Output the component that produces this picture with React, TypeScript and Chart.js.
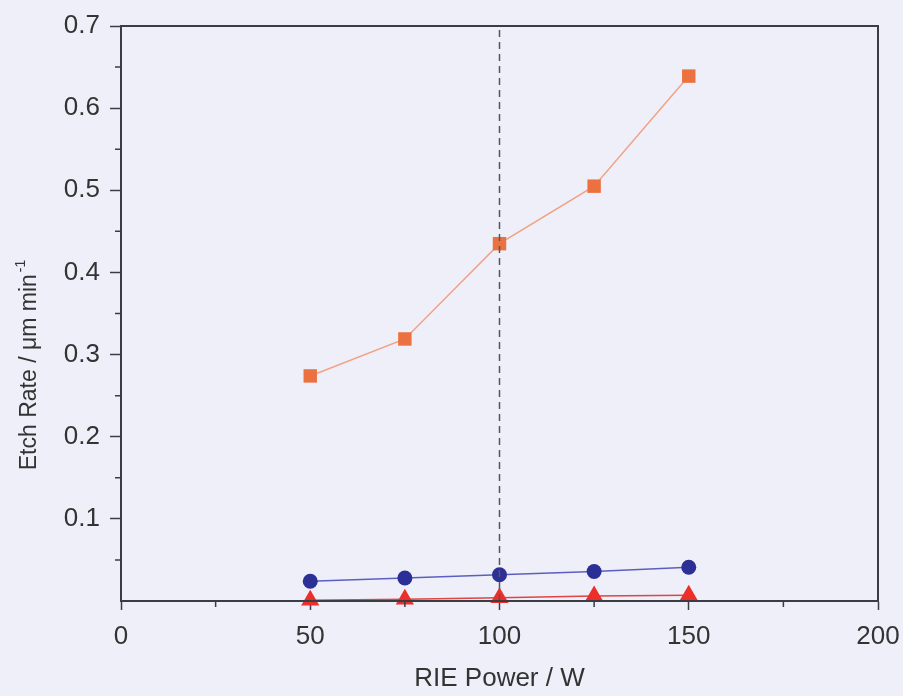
import React, { useEffect, useRef } from "react";
import { Chart, registerables } from "chart.js";

Chart.register(...registerables);

const powers = [50, 75, 100, 125, 150];
const seriesSquare = [0.274, 0.319, 0.435, 0.505, 0.639];
const seriesCircle = [0.024, 0.028, 0.032, 0.036, 0.041];
const seriesTriangle = [0.001, 0.002, 0.004, 0.006, 0.007];
const guideX = [100, 100];
const guideY = [0, 0.7];
const xTickValues = [0, 50, 100, 150, 200];
const yTickValues = [0.1, 0.2, 0.3, 0.4, 0.5, 0.6, 0.7];
const xMinorTicks = [25, 75, 125, 175];
const yMinorTicks = [0.05, 0.15, 0.25, 0.35, 0.45, 0.55, 0.65];
const xTitle = "RIE Power / W";
const yTitleMain = "Etch Rate / \u03bcm min";
const yTitleSup = "-1";

const BG = "#eeeff8";
const AXIS = "#3c3c44";
const FONT = "'Liberation Sans', Arial, sans-serif";

export default function App() {
  const ref = useRef<HTMLCanvasElement | null>(null);

  useEffect(() => {
    document.body.style.margin = "0";
    document.body.style.background = BG;
    const canvas = ref.current;
    if (!canvas) return;

    const framePlugin = {
      id: "frame",
      afterDraw(chart: any) {
        const { ctx, chartArea, scales } = chart;
        const { left, right, top, bottom } = chartArea;
        ctx.save();
        ctx.strokeStyle = AXIS;
        ctx.lineWidth = 2;
        ctx.strokeRect(left, top, right - left, bottom - top);
        ctx.lineWidth = 1.5;
        ctx.beginPath();
        yMinorTicks.forEach((v) => {
          const y = scales.y.getPixelForValue(v);
          ctx.moveTo(left - 6, y);
          ctx.lineTo(left, y);
        });
        xMinorTicks.forEach((v) => {
          const x = scales.x.getPixelForValue(v);
          ctx.moveTo(x, bottom);
          ctx.lineTo(x, bottom + 6);
        });
        ctx.stroke();
        ctx.fillStyle = "#333";
        const cx = 30;
        const cy = 365;
        ctx.translate(cx, cy);
        ctx.rotate(-Math.PI / 2);
        ctx.font = `23px ${FONT}`;
        const wMain = ctx.measureText(yTitleMain).width;
        ctx.font = `14px ${FONT}`;
        const wSup = ctx.measureText(yTitleSup).width;
        const total = wMain + wSup + 2;
        ctx.textBaseline = "middle";
        ctx.textAlign = "left";
        ctx.font = `23px ${FONT}`;
        ctx.fillText(yTitleMain, -total / 2, 0);
        ctx.font = `14px ${FONT}`;
        ctx.fillText(yTitleSup, -total / 2 + wMain + 2, -9);
        ctx.restore();
      },
    };

    const chart = new Chart(canvas, {
      type: "scatter",
      data: {
        datasets: [
          {
            label: "guide",
            data: guideX.map((x, i) => ({ x, y: guideY[i] })),
            showLine: true,
            borderColor: "#555560",
            borderWidth: 1.5,
            borderDash: [7, 5],
            pointRadius: 0,
          },
          {
            label: "triangle",
            data: powers.map((x, i) => ({ x, y: seriesTriangle[i] })),
            showLine: true,
            borderColor: "#e04444",
            borderWidth: 1.5,
            pointStyle: "triangle",
            pointRadius: 10.5,
            pointBackgroundColor: "#ec2f2a",
            pointBorderColor: "#ec2f2a",
            pointBorderWidth: 0,
          },
          {
            label: "circle",
            data: powers.map((x, i) => ({ x, y: seriesCircle[i] })),
            showLine: true,
            borderColor: "#5d5fc0",
            borderWidth: 1.5,
            pointStyle: "circle",
            pointRadius: 7.5,
            pointBackgroundColor: "#2b2f96",
            pointBorderColor: "#2b2f96",
            pointBorderWidth: 0,
          },
          {
            label: "square",
            data: powers.map((x, i) => ({ x, y: seriesSquare[i] })),
            showLine: true,
            borderColor: "#f2a283",
            borderWidth: 1.5,
            pointStyle: "rect",
            pointRadius: 9.5,
            pointBackgroundColor: "#ec7140",
            pointBorderColor: "#ec7140",
            pointBorderWidth: 0,
          },
        ],
      },
      options: {
        animation: false,
        responsive: false,
        maintainAspectRatio: false,
        clip: false as any,
        layout: { padding: { top: 26, right: 25, left: 0, bottom: 0 } },
        plugins: { legend: { display: false }, tooltip: { enabled: false } },
        scales: {
          x: {
            type: "linear",
            min: 0,
            max: 200,
            afterBuildTicks(scale: any) {
              scale.ticks = xTickValues.map((v) => ({ value: v }));
            },
            afterFit(scale: any) {
              scale.height = 95;
              scale.paddingLeft = 0;
              scale.paddingRight = 0;
            },
            grid: {
              drawOnChartArea: false,
              drawTicks: true,
              tickLength: 9,
              tickWidth: 1.5,
              tickColor: AXIS,
            },
            border: { display: true, color: AXIS, width: 2 },
            ticks: {
              color: "#333",
              font: { family: FONT, size: 26 },
              padding: 11,
              maxRotation: 0,
              callback: (v: any) => String(v),
            },
            title: {
              display: true,
              text: xTitle,
              color: "#333",
              font: { family: FONT, size: 26 },
              padding: { top: 2, bottom: 2 },
            },
          },
          y: {
            type: "linear",
            min: 0,
            max: 0.7,
            afterBuildTicks(scale: any) {
              scale.ticks = yTickValues.map((v) => ({ value: v }));
            },
            afterFit(scale: any) {
              scale.width = 121;
              scale.paddingTop = 0;
              scale.paddingBottom = 0;
            },
            grid: {
              drawOnChartArea: false,
              drawTicks: true,
              tickLength: 11,
              tickWidth: 1.5,
              tickColor: AXIS,
            },
            border: { display: true, color: AXIS, width: 2 },
            ticks: {
              color: "#333",
              font: { family: FONT, size: 26 },
              padding: 10,
              callback: (v: any) => Number(v).toFixed(1),
            },
          },
        },
      },
      plugins: [framePlugin],
    });

    return () => chart.destroy();
  }, []);

  return (
    <div style={{ width: 903, height: 696, background: BG }}>
      <canvas ref={ref} width={903} height={696} style={{ display: "block" }} />
    </div>
  );
}
